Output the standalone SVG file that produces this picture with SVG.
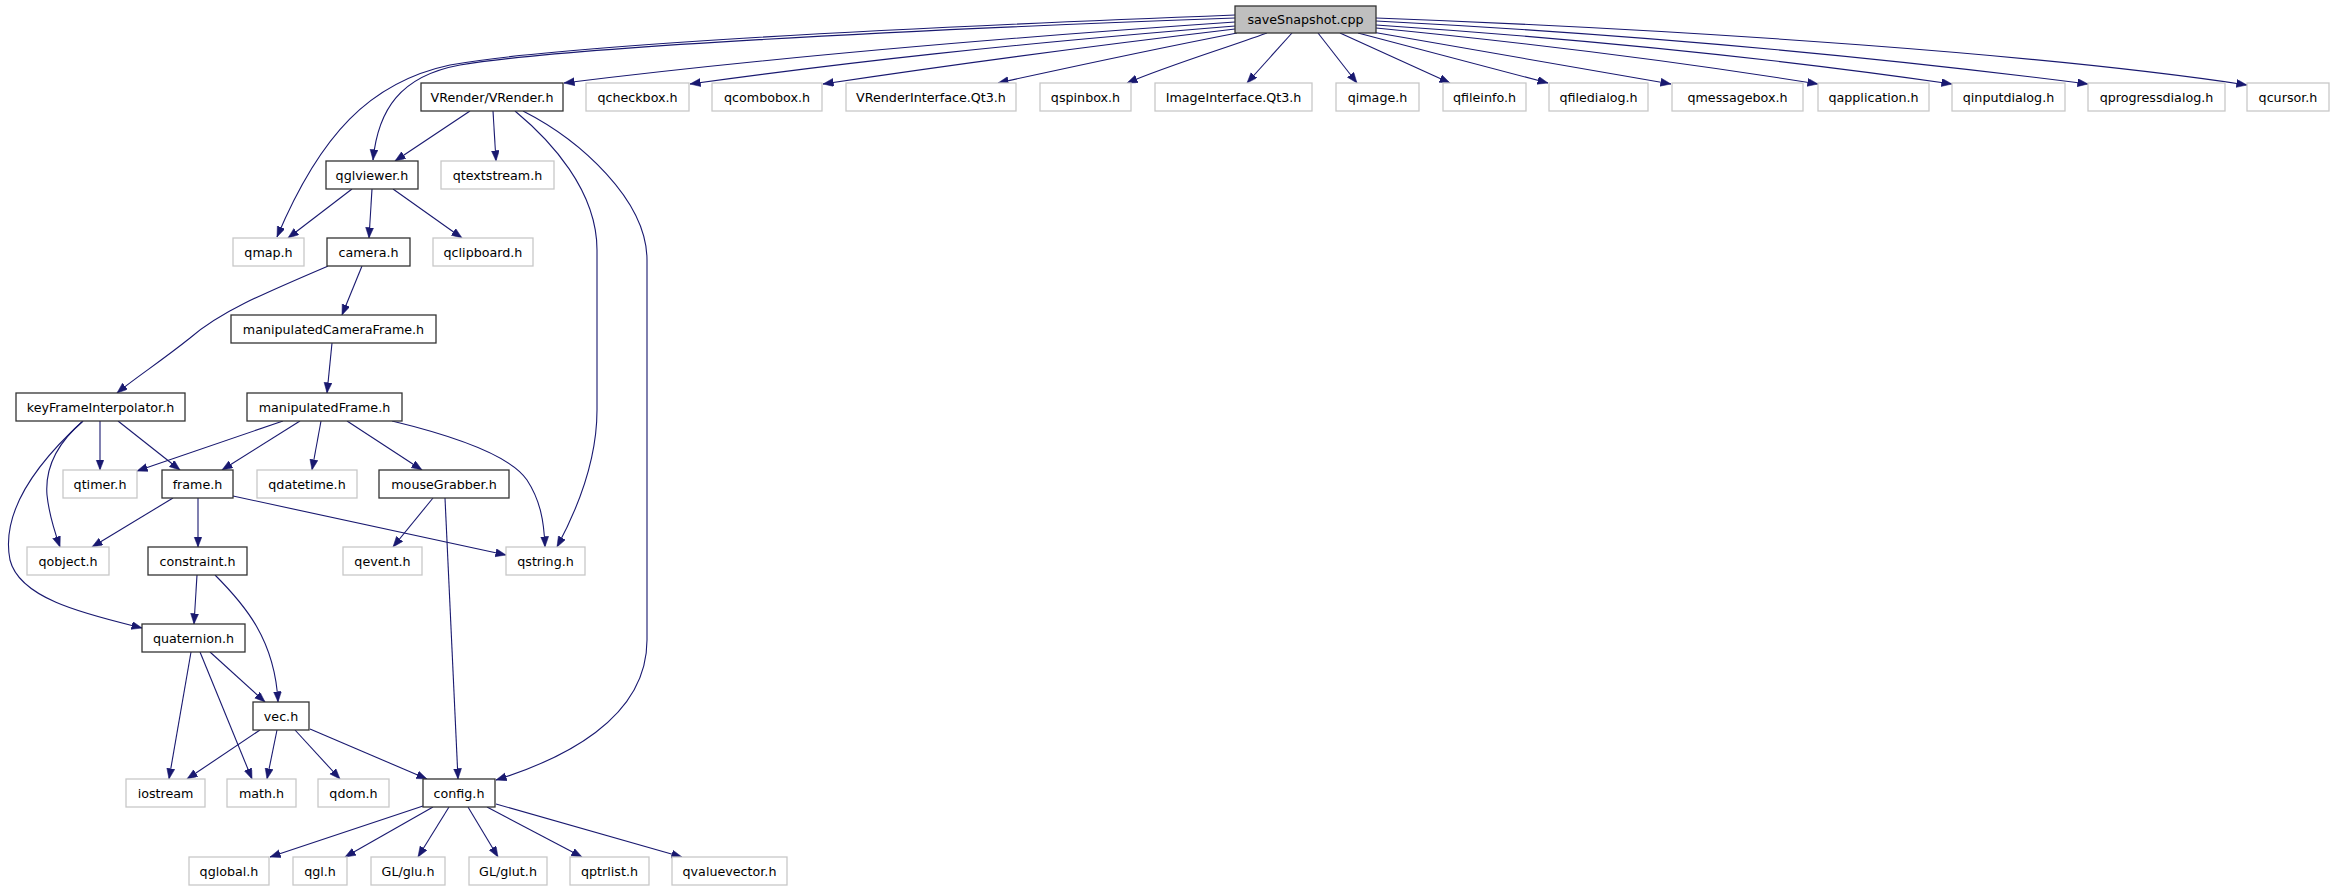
<svg xmlns="http://www.w3.org/2000/svg" width="2334" height="891" viewBox="0 0 2334 891">
<style>
.n rect{fill:#ffffff;stroke:#333333;stroke-width:1.3}
.g rect{fill:#ffffff;stroke:#c8c8c8;stroke-width:1.3}
.root rect{fill:#bfbfbf;stroke:#333333;stroke-width:1.3}
text{font-family:"DejaVu Sans","Liberation Sans",sans-serif;font-size:12.7px;fill:#000000;text-anchor:middle}
#edges path{fill:none;stroke:#191970;stroke-width:1.1;marker-end:url(#arr)}
</style>
<defs>
<marker id="arr" markerUnits="userSpaceOnUse" markerWidth="11" markerHeight="9" refX="10.5" refY="4" orient="auto">
<path d="M0,0 L10.5,4 L0,8 z" fill="#191970" stroke="#191970" stroke-width="0.5"/>
</marker>
</defs>
<rect width="2334" height="891" fill="#ffffff"/>
<g id="edges">
<path d="M1235,15 C900,28 560,45 450,65 C370,82 320,135 277,237"/>
<path d="M1235,18 C900,30 560,48 460,65 C400,76 378,110 373,160"/>
<path d="M1235,22 C1000,38 750,60 564,83"/>
<path d="M1235,26 C1000,45 850,62 690,84"/>
<path d="M1235,29 C1100,45 950,65 823,84"/>
<path d="M1237,33 C1150,50 1080,65 998,83"/>
<path d="M1267,33 C1220,50 1170,65 1127,83"/>
<path d="M1292,33 L1247,83"/>
<path d="M1318,33 L1357,83"/>
<path d="M1340,33 L1450,83"/>
<path d="M1358,33 L1548,83"/>
<path d="M1372,32 L1671,84"/>
<path d="M1376,28 C1550,45 1700,65 1818,84"/>
<path d="M1376,25 C1600,40 1800,62 1952,84"/>
<path d="M1376,21 C1650,35 1900,60 2088,84"/>
<path d="M1376,18 C1700,30 2050,55 2247,85"/>
<path d="M470,111 L395,161"/>
<path d="M493,111 L496,161"/>
<path d="M515,111 C550,140 597,190 597,250 L597,410 C597,450 585,495 557,547"/>
<path d="M523,111 C580,140 647,200 647,260 L647,640 C647,720 560,760 496,780"/>
<path d="M352,189 L288,238"/>
<path d="M372,189 L369,238"/>
<path d="M393,189 L462,238"/>
<path d="M362,266 L342,315"/>
<path d="M328,266 C260,295 220,312 190,338 C160,362 135,378 117,393"/>
<path d="M332,343 L327,393"/>
<path d="M100,421 L100,470"/>
<path d="M118,421 L180,470"/>
<path d="M83,421 C55,445 45,470 47,495 C49,515 54,530 60,547"/>
<path d="M83,421 C40,460 0,510 10,560 C20,600 90,615 142,628"/>
<path d="M283,421 L137,471"/>
<path d="M300,421 L222,470"/>
<path d="M321,421 L312,470"/>
<path d="M347,421 L422,470"/>
<path d="M392,421 C450,435 510,455 527,480 C540,500 544,520 545,547"/>
<path d="M173,498 L92,547"/>
<path d="M198,498 L198,547"/>
<path d="M233,496 L506,555"/>
<path d="M433,498 L393,547"/>
<path d="M445,498 L458,779"/>
<path d="M197,575 L194,624"/>
<path d="M215,575 C245,605 275,640 278,702"/>
<path d="M210,652 L265,702"/>
<path d="M191,652 L169,779"/>
<path d="M200,652 L252,779"/>
<path d="M260,730 L187,779"/>
<path d="M277,730 L267,779"/>
<path d="M295,730 L340,779"/>
<path d="M310,729 L427,779"/>
<path d="M423,806 L270,857"/>
<path d="M433,807 L345,857"/>
<path d="M449,807 L418,857"/>
<path d="M468,807 L498,857"/>
<path d="M487,807 L582,857"/>
<path d="M496,804 L682,857"/>
</g>
<g id="saveSnapshot" class="root"><rect x="1235" y="6" width="141" height="27"/><text x="1305.5" y="24">saveSnapshot.cpp</text></g>
<g id="VRender" class="n"><rect x="421" y="83" width="142" height="28"/><text x="492" y="101.5">VRender/VRender.h</text></g>
<g id="qcheckbox" class="g"><rect x="586" y="83" width="103" height="28"/><text x="637.5" y="101.5">qcheckbox.h</text></g>
<g id="qcombobox" class="g"><rect x="712" y="83" width="110" height="28"/><text x="767" y="101.5">qcombobox.h</text></g>
<g id="VRenderInterface" class="g"><rect x="846" y="83" width="170" height="28"/><text x="931" y="101.5">VRenderInterface.Qt3.h</text></g>
<g id="qspinbox" class="g"><rect x="1040" y="83" width="91" height="28"/><text x="1085.5" y="101.5">qspinbox.h</text></g>
<g id="ImageInterface" class="g"><rect x="1155" y="83" width="157" height="28"/><text x="1233.5" y="101.5">ImageInterface.Qt3.h</text></g>
<g id="qimage" class="g"><rect x="1336" y="83" width="83" height="28"/><text x="1377.5" y="101.5">qimage.h</text></g>
<g id="qfileinfo" class="g"><rect x="1443" y="83" width="83" height="28"/><text x="1484.5" y="101.5">qfileinfo.h</text></g>
<g id="qfiledialog" class="g"><rect x="1549" y="83" width="99" height="28"/><text x="1598.5" y="101.5">qfiledialog.h</text></g>
<g id="qmessagebox" class="g"><rect x="1672" y="83" width="131" height="28"/><text x="1737.5" y="101.5">qmessagebox.h</text></g>
<g id="qapplication" class="g"><rect x="1818" y="83" width="111" height="28"/><text x="1873.5" y="101.5">qapplication.h</text></g>
<g id="qinputdialog" class="g"><rect x="1952" y="83" width="113" height="28"/><text x="2008.5" y="101.5">qinputdialog.h</text></g>
<g id="qprogressdialog" class="g"><rect x="2088" y="83" width="137" height="28"/><text x="2156.5" y="101.5">qprogressdialog.h</text></g>
<g id="qcursor" class="g"><rect x="2247" y="83" width="82" height="28"/><text x="2288" y="101.5">qcursor.h</text></g>
<g id="qglviewer" class="n"><rect x="326" y="161" width="92" height="28"/><text x="372" y="179.5">qglviewer.h</text></g>
<g id="qtextstream" class="g"><rect x="441" y="161" width="113" height="28"/><text x="497.5" y="179.5">qtextstream.h</text></g>
<g id="qmap" class="g"><rect x="233" y="238" width="71" height="28"/><text x="268.5" y="256.5">qmap.h</text></g>
<g id="camera" class="n"><rect x="327" y="238" width="83" height="28"/><text x="368.5" y="256.5">camera.h</text></g>
<g id="qclipboard" class="g"><rect x="433" y="238" width="100" height="28"/><text x="483" y="256.5">qclipboard.h</text></g>
<g id="manipulatedCameraFrame" class="n"><rect x="231" y="315" width="205" height="28"/><text x="333.5" y="333.5">manipulatedCameraFrame.h</text></g>
<g id="keyFrameInterpolator" class="n"><rect x="16" y="393" width="169" height="28"/><text x="100.5" y="411.5">keyFrameInterpolator.h</text></g>
<g id="manipulatedFrame" class="n"><rect x="247" y="393" width="155" height="28"/><text x="324.5" y="411.5">manipulatedFrame.h</text></g>
<g id="qtimer" class="g"><rect x="63" y="470" width="74" height="28"/><text x="100" y="488.5">qtimer.h</text></g>
<g id="frame" class="n"><rect x="162" y="470" width="71" height="28"/><text x="197.5" y="488.5">frame.h</text></g>
<g id="qdatetime" class="g"><rect x="257" y="470" width="100" height="28"/><text x="307" y="488.5">qdatetime.h</text></g>
<g id="mouseGrabber" class="n"><rect x="379" y="470" width="130" height="28"/><text x="444" y="488.5">mouseGrabber.h</text></g>
<g id="qobject" class="g"><rect x="27" y="547" width="82" height="28"/><text x="68" y="565.5">qobject.h</text></g>
<g id="constraint" class="n"><rect x="148" y="547" width="99" height="28"/><text x="197.5" y="565.5">constraint.h</text></g>
<g id="qevent" class="g"><rect x="343" y="547" width="79" height="28"/><text x="382.5" y="565.5">qevent.h</text></g>
<g id="qstring" class="g"><rect x="506" y="547" width="79" height="28"/><text x="545.5" y="565.5">qstring.h</text></g>
<g id="quaternion" class="n"><rect x="142" y="624" width="103" height="28"/><text x="193.5" y="642.5">quaternion.h</text></g>
<g id="vec" class="n"><rect x="253" y="702" width="56" height="28"/><text x="281" y="720.5">vec.h</text></g>
<g id="iostream" class="g"><rect x="126" y="779" width="79" height="28"/><text x="165.5" y="797.5">iostream</text></g>
<g id="math" class="g"><rect x="227" y="779" width="69" height="28"/><text x="261.5" y="797.5">math.h</text></g>
<g id="qdom" class="g"><rect x="318" y="779" width="71" height="28"/><text x="353.5" y="797.5">qdom.h</text></g>
<g id="config" class="n"><rect x="423" y="779" width="72" height="28"/><text x="459" y="797.5">config.h</text></g>
<g id="qglobal" class="g"><rect x="189" y="857" width="80" height="28"/><text x="229" y="875.5">qglobal.h</text></g>
<g id="qgl" class="g"><rect x="293" y="857" width="54" height="28"/><text x="320" y="875.5">qgl.h</text></g>
<g id="GLglu" class="g"><rect x="371" y="857" width="74" height="28"/><text x="408" y="875.5">GL/glu.h</text></g>
<g id="GLglut" class="g"><rect x="469" y="857" width="78" height="28"/><text x="508" y="875.5">GL/glut.h</text></g>
<g id="qptrlist" class="g"><rect x="570" y="857" width="79" height="28"/><text x="609.5" y="875.5">qptrlist.h</text></g>
<g id="qvaluevector" class="g"><rect x="672" y="857" width="115" height="28"/><text x="729.5" y="875.5">qvaluevector.h</text></g>
</svg>
